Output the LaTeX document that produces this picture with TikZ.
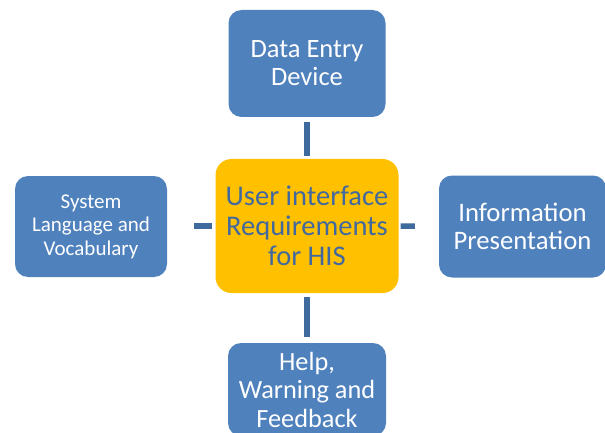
\documentclass[tikz,border=0pt]{standalone}
\usepackage{fontspec}
\setmainfont{Carlito}
\definecolor{boxblue}{HTML}{4F81BD}
\definecolor{linkblue}{HTML}{3E6A9E}
\definecolor{hubgold}{HTML}{FFC000}
\definecolor{hubtext}{HTML}{4169A0}
\begin{document}
\begin{tikzpicture}[x=1pt,y=-1pt,
  topic/.style={draw=none,fill=boxblue,rounded corners=13pt,text=white,align=center,inner sep=0pt},
  hub/.style={draw=none,fill=hubgold,rounded corners=16pt,text=hubtext,align=center,inner sep=0pt},
  link/.style={draw=linkblue,line width=5.5pt}]
\useasboundingbox (0,0) rectangle (605,433);
\clip (0,0) rectangle (605,433);
\node[hub,minimum width=183pt,minimum height=134pt,font=\fontsize{28.5}{30}\selectfont] (hub) at (307,226)
  {User interface\\Requirements\\for HIS};
\node[topic,minimum width=157pt,minimum height=107pt,font=\fontsize{26.5}{28}\selectfont] (top) at (307,63.5)
  {Data Entry\\Device};
\node[topic,minimum width=158pt,minimum height=93pt,font=\fontsize{26.3}{28.5}\selectfont] (bottom) at (307,389.5)
  {Help,\\Warning and\\Feedback};
\node[topic,minimum width=152pt,minimum height=101pt,font=\fontsize{21}{23.5}\selectfont] (left) at (91,226.5)
  {System\\Language and\\Vocabulary};
\node[topic,minimum width=167pt,minimum height=102pt,font=\fontsize{26.7}{28.5}\selectfont] (right) at (522.5,226.5)
  {Information\\Presentation};
\draw[link,shorten <=5pt,shorten >=3pt] (top.south) -- (hub.north);
\draw[link,shorten <=4pt,shorten >=6pt] (hub.south) -- (bottom.north);
\draw[link,shorten <=27pt,shorten >=3pt] (left.east|-hub.west) -- (hub.west);
\draw[link,shorten <=2pt,shorten >=24pt] (hub.east) -- (right.west);
\end{tikzpicture}
\end{document}
